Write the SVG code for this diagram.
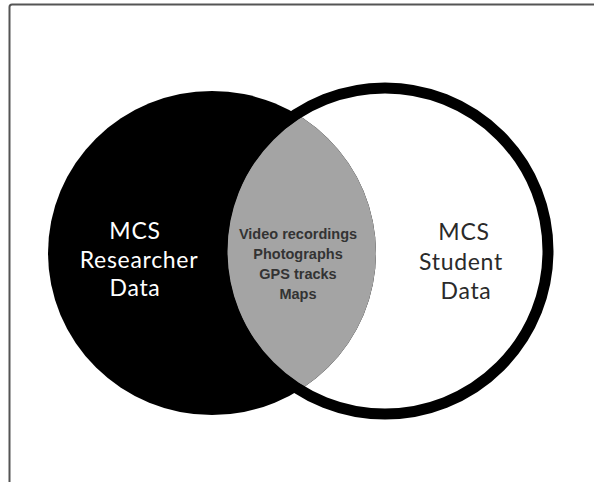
<svg xmlns="http://www.w3.org/2000/svg" width="594" height="482" viewBox="0 0 594 482">
<style>
.lbl{font-family:Lato,"Open Sans","Noto Sans",sans-serif;font-size:23px;letter-spacing:0.7px;text-anchor:middle}
.mid{font-family:"Liberation Sans",Arial,sans-serif;font-size:14.5px;font-weight:bold;fill:#333;text-anchor:middle}
</style>
<defs>
<clipPath id="leftClip"><ellipse cx="212" cy="253" rx="164" ry="162"/></clipPath>
</defs>
<rect width="594" height="482" fill="#fff"/>
<path d="M9.5,482 V7 Q9.5,4.5 12,4.5 H594" fill="none" stroke="#555" stroke-width="2"/>
<g id="researcher">
<ellipse cx="212" cy="253" rx="164" ry="162" fill="#000"/>
</g>
<g id="overlap">
<circle cx="385" cy="251" r="158" fill="#a4a4a4" clip-path="url(#leftClip)"/>
</g>
<g id="student">
<circle cx="385" cy="251" r="163" fill="none" stroke="#000" stroke-width="11"/>
</g>
<g id="labels">
<text class="lbl" fill="#fff" x="135" y="239">MCS</text>
<text class="lbl" fill="#fff" x="139" y="268">Researcher</text>
<text class="lbl" fill="#fff" x="135" y="296">Data</text>
<text class="lbl" fill="#2a2a2a" x="464" y="240">MCS</text>
<text class="lbl" fill="#2a2a2a" x="461" y="270">Student</text>
<text class="lbl" fill="#2a2a2a" x="466" y="299">Data</text>
<text class="mid" x="298" y="239">Video recordings</text>
<text class="mid" x="298" y="259">Photographs</text>
<text class="mid" x="298" y="279">GPS tracks</text>
<text class="mid" x="298" y="299">Maps</text>
</g>
</svg>
